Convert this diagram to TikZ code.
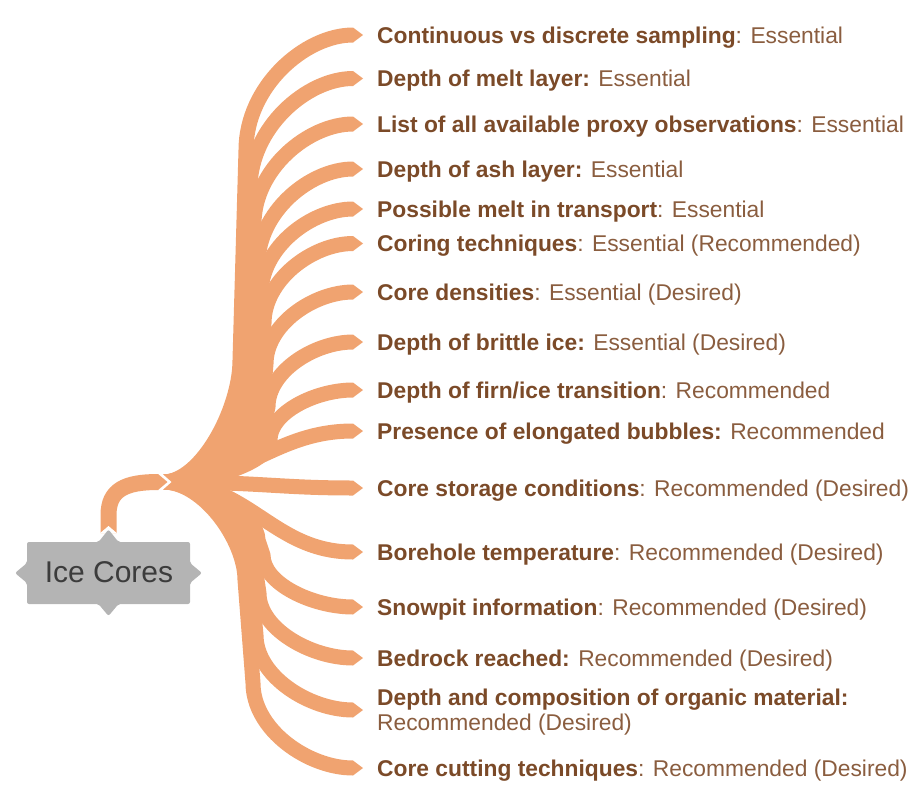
\documentclass[tikz,border=0pt]{standalone}
\usepackage{fontspec}
\setmainfont{Liberation Sans}
\definecolor{bandc}{HTML}{F0A370}
\definecolor{boldc}{HTML}{7B4A28}
\definecolor{regc}{HTML}{8A5D3F}
\definecolor{icfill}{HTML}{B4B4B4}
\definecolor{ictext}{HTML}{3C3C3C}
\newcommand\regtext[1]{{\color{regc}\mdseries#1}}
\tikzset{
  band/.style={draw=bandc, line width=15pt, line cap=butt, line join=round},
  tipfill/.style={fill=bandc},
  lab/.style={anchor=base west, inner sep=0pt, font=\fontsize{22.8}{25}\selectfont\bfseries, text=boldc, align=left},
}
% upward branch: yc, xa, yj, xb, R
\newcommand\bU[5]{%
  \draw[band] (hub) .. controls ({(163+#2)/2},482) and (#2,{#3+0.4*(482-#3)}) .. (#2,#3) -- (#4,{#1+#5})
     .. controls (#4,{#1+0.45*#5}) and ({353-0.45*(353-#4)},#1) .. (353,#1);
  \fill[tipfill] (353,{#1-7.5}) -- (363,#1) -- (353,{#1+7.5}) -- cycle;}
% downward branch: yc, xa, yj, xb, R
\newcommand\bD[5]{%
  \draw[band] (hub) .. controls ({(163+#2)/2},482) and (#2,{#3-0.4*(#3-482)}) .. (#2,#3) -- (#4,{#1-#5})
     .. controls (#4,{#1-0.45*#5}) and ({353-0.45*(353-#4)},#1) .. (353,#1);
  \fill[tipfill] (353,{#1-7.5}) -- (363,#1) -- (353,{#1+7.5}) -- cycle;}
% S branch: yc, c1x, c2x
\newcommand\bS[3]{%
  \draw[band] (hub) .. controls (#2,482) and (#3,#1) .. (353,#1);
  \fill[tipfill] (353,{#1-7.5}) -- (363,#1) -- (353,{#1+7.5}) -- cycle;}
\begin{document}
\begin{tikzpicture}[x=1pt,y=-1pt]
\useasboundingbox (0,0) rectangle (921,787);
\coordinate (hub) at (163,482);
% branches
\bU{35}{240}{360}{246}{115}
\bU{78.5}{245}{370}{250}{110}
\bU{124}{249}{380}{254}{100}
\bU{169}{253}{390}{258}{95}
\bU{209}{256}{400}{261}{85}
\bU{243.5}{259}{405}{264}{80}
\bU{292}{262}{410}{266}{72}
\bU{342}{265}{420}{268}{65}
\bU{390}{268}{445}{270}{50}
\bS{431}{245}{275}
\bS{488}{260}{280}
\bS{552}{250}{272}
\bD{607}{258}{540}{263}{52}
\bD{658}{254}{560}{259}{65}
\bD{710}{250}{570}{256}{75}
\bD{768}{245}{580}{253}{85}
% notch at the hub
\fill[white] (150,466) -- (163,466) -- (163,474.5) -- (171.5,482) -- (163,489.5) -- (163,498) -- (150,498) -- cycle;
% connector from Ice Cores
\coordinate (icc) at (108.5,533);
\draw[band, line width=16pt] (icc) -- (108.5,515) .. controls (108.5,490) and (125,482) .. (158,482);
\fill[tipfill] (158,474) -- (167.5,482) -- (158,490) -- cycle;
\fill[white] (100,533.2) -- (108.5,526) -- (117,533.2) -- cycle;
% Ice Cores
\fill[icfill, rounded corners=2pt] (27,542) -- (98.5,542) -- (108.5,529.5) -- (118.5,542) -- (190,542) -- (190,563) -- (202,573) -- (190,583) -- (190,604) -- (118.5,604) -- (108.5,616) -- (98.5,604) -- (27,604) -- (27,583) -- (15,573) -- (27,563) -- cycle;
\node[anchor=base, inner sep=0pt, text=ictext, font=\fontsize{30}{33}\selectfont] (ic) at (109,582.5) {Ice Cores};
% labels
\node[lab] (t1) at (377,43) {Continuous vs discrete sampling\regtext{: Essential}};
\node[lab] (t2) at (377,86.5) {Depth of melt layer:\regtext{ Essential}};
\node[lab] (t3) at (377,132) {List of all available proxy observations\regtext{: Essential}};
\node[lab] (t4) at (377,177) {Depth of ash layer:\regtext{ Essential}};
\node[lab] (t5) at (377,217) {Possible melt in transport\regtext{: Essential}};
\node[lab] (t6) at (377,251.5) {Coring techniques\regtext{: Essential (Recommended)}};
\node[lab] (t7) at (377,300) {Core densities\regtext{: Essential (Desired)}};
\node[lab] (t8) at (377,350) {Depth of brittle ice:\regtext{ Essential (Desired)}};
\node[lab] (t9) at (377,398) {Depth of firn/ice transition\regtext{: Recommended}};
\node[lab] (t10) at (377,439) {Presence of elongated bubbles:\regtext{ Recommended}};
\node[lab] (t11) at (377,496) {Core storage conditions\regtext{: Recommended (Desired)}};
\node[lab] (t12) at (377,560) {Borehole temperature\regtext{: Recommended (Desired)}};
\node[lab] (t13) at (377,615) {Snowpit information\regtext{: Recommended (Desired)}};
\node[lab] (t14) at (377,666) {Bedrock reached:\regtext{ Recommended (Desired)}};
\node[lab, anchor=west] (t15) at (377,712) {Depth and composition of organic material:\\\regtext{Recommended (Desired)}};
\node[lab] (t16) at (377,776) {Core cutting techniques\regtext{: Recommended (Desired)}};
\end{tikzpicture}
\end{document}
